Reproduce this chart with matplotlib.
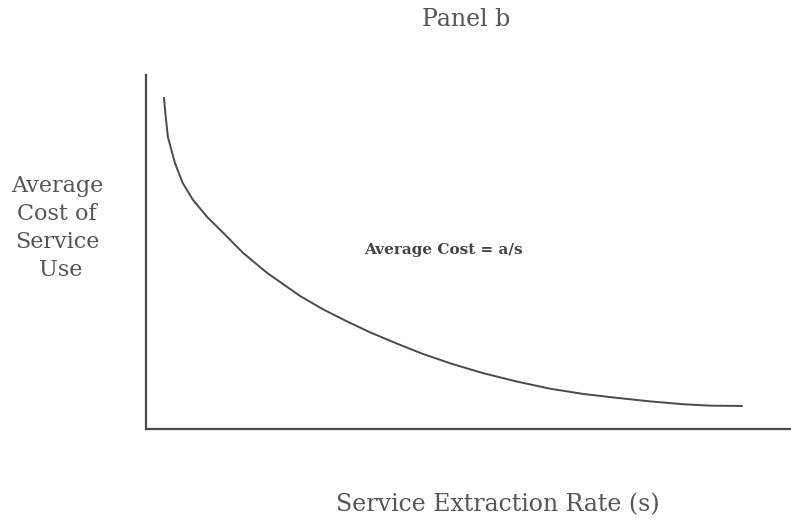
import matplotlib
matplotlib.use("Agg")
import matplotlib.pyplot as plt

# Data (arbitrary units, axes 0..10)
s_rate = [0.28, 0.30, 0.34, 0.45, 0.57, 0.73, 0.95, 1.20, 1.51, 1.88, 2.39, 2.75,
          3.12, 3.48, 3.90, 4.30, 4.75, 5.23, 5.76, 6.27, 6.79, 7.31, 7.83, 8.34,
          8.76, 9.25]
avg_cost = [9.35, 8.93, 8.25, 7.51, 6.95, 6.47, 5.99, 5.54, 4.97, 4.41, 3.76, 3.38,
            3.04, 2.73, 2.41, 2.12, 1.84, 1.58, 1.34, 1.14, 0.99, 0.88, 0.78, 0.70,
            0.66, 0.65]

title = "Panel b"
xlabel = "Service Extraction Rate (s)"
ylabel = "Average\nCost of\nService\n Use"
curve_label = "Average Cost = a/s"

W, H = 791, 521
fig = plt.figure(figsize=(W / 100, H / 100), dpi=100)
ax = fig.add_axes([146 / W, 1 - 429 / H, (790 - 146) / W, (429 - 75) / H])

ink = "#4a4a4a"
ax.plot(s_rate, avg_cost, color=ink, lw=1.4, solid_joinstyle="round")
ax.set_xlim(0, 10)
ax.set_ylim(0, 10)
ax.set_xticks([])
ax.set_yticks([])
for side in ("top", "right"):
    ax.spines[side].set_visible(False)
for side in ("left", "bottom"):
    ax.spines[side].set_color(ink)
    ax.spines[side].set_linewidth(1.6)

font = "DejaVu Serif"
txt = "#555555"
fig.text(466 / W, 1 - 20 / H, title, ha="center", va="center",
         fontsize=17, family=font, color=txt)
fig.text(498 / W, 1 - 505 / H, xlabel, ha="center", va="center",
         fontsize=17, family=font, color=txt)
fig.text(57 / W, 1 - 228 / H, ylabel, ha="center", va="center",
         fontsize=16, family=font, color=txt, linespacing=1.37,
         multialignment="center")
fig.text(443 / W, 1 - 250 / H, curve_label, ha="center", va="center",
         fontsize=11, family=font, fontweight="bold", color="#444444")

fig.savefig("out.png", dpi=100, facecolor="white")
